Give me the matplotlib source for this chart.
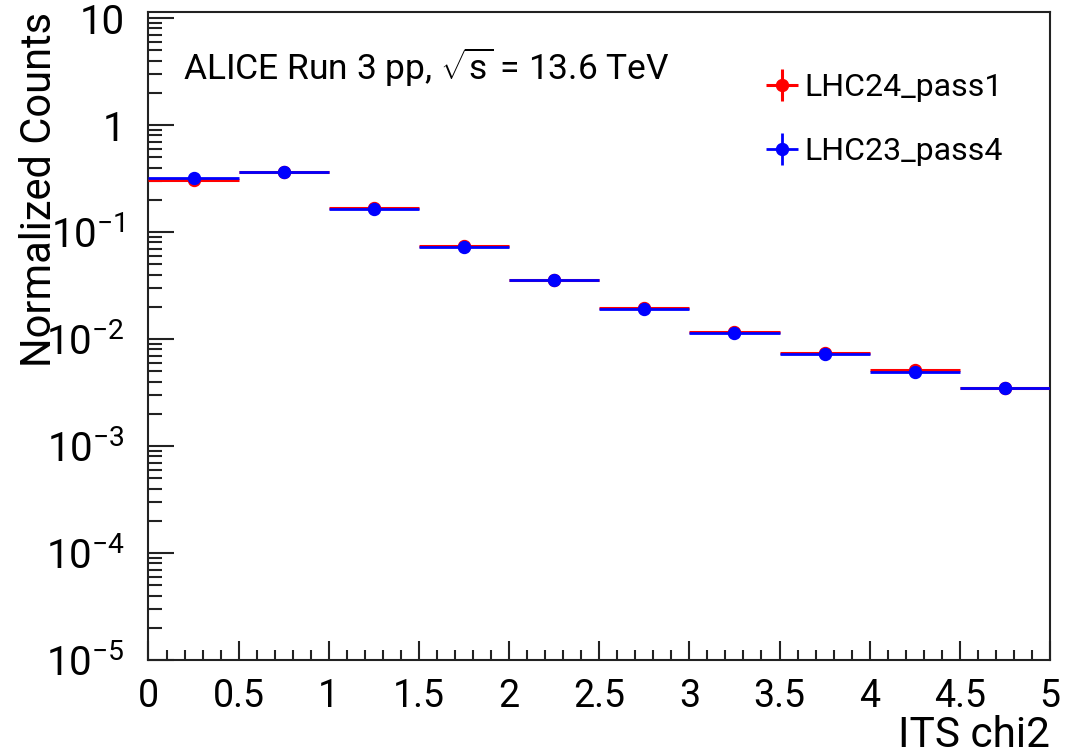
import matplotlib
matplotlib.use("Agg")
import matplotlib.pyplot as plt
import numpy as np
from matplotlib.ticker import MultipleLocator, LogLocator, FixedLocator, FuncFormatter, NullFormatter

plt.rcParams['font.family'] = ['Roboto', 'DejaVu Sans']
plt.rcParams['mathtext.fontset'] = 'custom'
plt.rcParams['mathtext.rm'] = 'Roboto'
plt.rcParams['mathtext.it'] = 'Roboto'
plt.rcParams['mathtext.bf'] = 'Roboto'

bin_centers = [0.25, 0.75, 1.25, 1.75, 2.25, 2.75, 3.25, 3.75, 4.25, 4.75]
bin_half_width = [0.25] * 10
stat_err = [0.0] * 10
lhc24_pass1 = [0.308, 0.368, 0.168, 0.0735, 0.0359, 0.0195, 0.0117, 0.00738, 0.00510, 0.00352]
lhc23_pass4 = [0.318, 0.364, 0.165, 0.0724, 0.0353, 0.0192, 0.01146, 0.00729, 0.00495, 0.00348]
series_labels = ["LHC24_pass1", "LHC23_pass4"]
x_tick_labels = ["0", "0.5", "1", "1.5", "2", "2.5", "3", "3.5", "4", "4.5", "5"]

fig = plt.figure(figsize=(10.83, 7.55), dpi=100)
ax = fig.add_axes([0.1371, 0.1258, 0.9695 - 0.1371, 0.9841 - 0.1258])

ax.errorbar(bin_centers, lhc24_pass1, xerr=bin_half_width, yerr=stat_err, fmt='o', color='red',
            ms=8.6, elinewidth=2.2, capsize=0, label=series_labels[0], zorder=3)
ax.errorbar(bin_centers, lhc23_pass4, xerr=bin_half_width, yerr=stat_err, fmt='o', color='blue',
            ms=8.6, elinewidth=2.0, capsize=0, label=series_labels[1], zorder=4)

ax.set_yscale('log')
ax.set_xlim(0, 5)
ax.set_ylim(1e-5, 11.4)

ax.xaxis.set_major_locator(FixedLocator(np.arange(0, 5.01, 0.5)))
ax.set_xticklabels(x_tick_labels)
ax.xaxis.set_minor_locator(MultipleLocator(0.1))

ax.yaxis.set_major_locator(FixedLocator([1e-5, 1e-4, 1e-3, 1e-2, 1e-1, 1, 10]))
def yfmt(v, pos):
    if 9.9 < v < 11:
        return "10"
    if abs(v - 1) < 1e-9:
        return "1"
    e = int(round(np.log10(v)))
    return r"$10^{%d}$" % e
ax.yaxis.set_major_formatter(FuncFormatter(yfmt))
ax.yaxis.set_minor_locator(LogLocator(base=10, subs=np.arange(2, 10), numticks=20))
ax.yaxis.set_minor_formatter(NullFormatter())

ax.tick_params(axis='both', which='both', direction='in', top=False, right=False, width=1.5, colors='#222222', labelcolor='black')
ax.tick_params(axis='y', which='major', length=19, pad=17, labelsize=29)
ax.tick_params(axis='y', which='minor', length=10)
ax.tick_params(axis='x', which='major', length=14, pad=13, labelsize=27)
ax.tick_params(axis='x', which='minor', length=7)
for s in ax.spines.values():
    s.set_linewidth(1.5)
    s.set_color('#222222')

ax.set_xlabel("ITS chi2", fontsize=30.5, loc='right', labelpad=0)
ax.set_ylabel("Normalized Counts", fontsize=30, loc='top', labelpad=-10)

ax.text(0.038, 0.914, r"ALICE Run 3 pp, $\sqrt{s}$ = 13.6 TeV", transform=ax.transAxes,
        fontsize=25.5, ha='left', va='center')

leg = ax.legend(loc='upper left', bbox_to_anchor=(0.672, 0.926), frameon=False, fontsize=23,
                handlelength=0.95, handletextpad=0.22, labelspacing=1.1, borderaxespad=0)

fig.savefig("out.png", dpi=100)
